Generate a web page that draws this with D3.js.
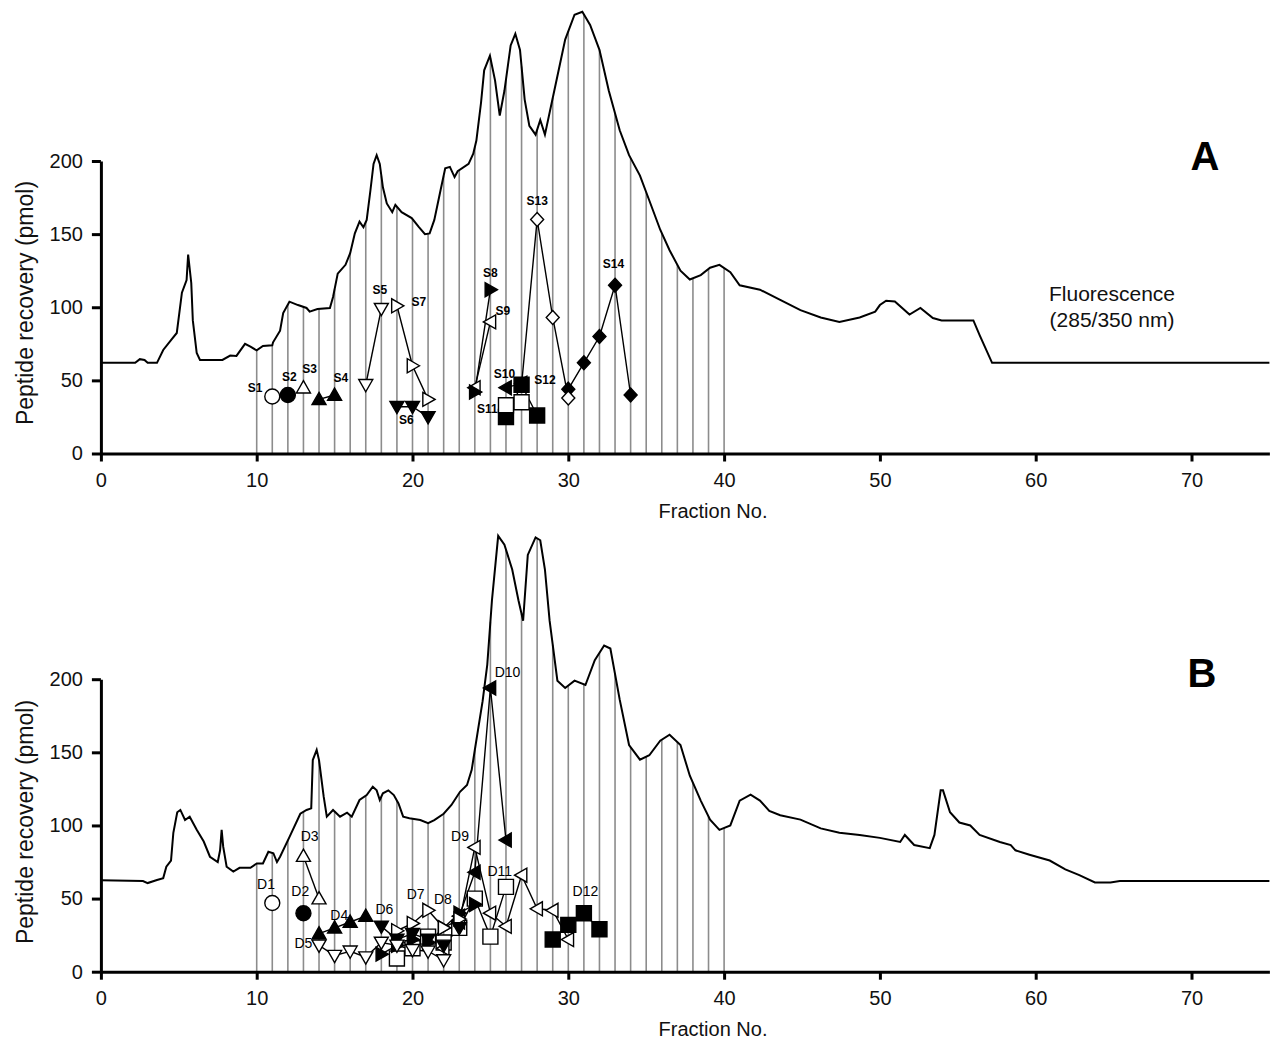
<!DOCTYPE html>
<html><head><meta charset="utf-8">
<script src="https://cdn.jsdelivr.net/npm/d3@7"></script>
<style>body{margin:0;background:#fff} text{font-family:"Liberation Sans",Arial,Helvetica,sans-serif}</style>
</head><body><svg id="chart" width="1270" height="1044"></svg>
<script>
// ---------- DATA ----------
const fractionTicks = [0, 10, 20, 30, 40, 50, 60, 70];
const recoveryTicks = [0, 50, 100, 150, 200];
const fractionDomain = [0, 75];
const recoveryDomain = [0, 200];
const barFractions = d3.range(10, 41);

// Fluorescence (285/350 nm) trace, panel A  [fraction, scaled value]
const fluorA = [[0,62],[2.2,62],[2.5,64.5],[2.8,64],[3.0,62],[3.6,62],[4.0,70.8],[4.5,77.6],[4.87,82.4],[5.2,110],[5.5,118.6],[5.6,136],[5.8,116.6],[5.9,91],[6.15,68.7],[6.36,64],[7.8,64],[8.3,67],[8.7,66.7],[9.25,75],[9.6,73],[10.0,70.5],[10.4,73.5],[11.0,74],[11.05,76],[11.5,84],[11.7,96],[12.1,103.8],[12.65,101.5],[13.2,99.5],[13.4,97],[13.9,98.8],[14.7,99.5],[14.9,107],[15.2,123],[15.7,129],[16.0,137],[16.3,150.5],[16.6,158.5],[16.85,154.7],[17.06,159.7],[17.3,180],[17.5,198],[17.7,204],[17.9,198],[18.1,182],[18.35,171],[18.7,165],[18.9,170],[19.3,165],[19.95,161],[20.4,155],[20.8,150],[21.1,150.5],[21.4,159.7],[21.8,180],[22.1,195],[22.4,196],[22.7,189],[22.9,193],[23.6,198],[23.9,205],[24.1,214],[24.4,240],[24.6,262],[24.97,272],[25.3,255],[25.6,231],[25.9,248],[26.3,279],[26.6,287],[26.9,276],[27.2,242],[27.5,224],[27.9,218],[28.2,228],[28.5,218],[29.1,248],[29.8,283],[30.4,300],[30.9,302],[31.4,293],[32,276],[32.6,248],[33.3,221],[33.9,204],[34.6,190],[35.2,173],[35.9,153],[36.5,139],[37.2,125],[37.8,119],[38.5,122],[39.1,127],[39.7,129],[40.4,124],[41,115],[42.3,112],[43.6,105],[44.9,98],[46.2,93],[47.4,90],[48.7,93],[49.7,97],[50.0,101.5],[50.4,104.5],[50.96,104],[51.9,95],[52.6,99.5],[53.4,92.6],[53.96,91],[56,91],[56.4,81],[57.2,62],[75,62]];

// Fluorescence trace, panel B
const fluorB = [[0,62.5],[2.7,62],[3.0,60.6],[3.6,62.7],[4.0,64],[4.2,71.8],[4.5,76],[4.65,95],[4.9,109],[5.1,110.6],[5.4,103.7],[5.7,106],[6.15,97],[6.6,89],[7.0,78.6],[7.5,75],[7.65,83],[7.75,97],[7.85,85.5],[8.07,71.8],[8.5,68.4],[8.9,71],[9.6,71],[10,74],[10.4,74],[10.75,82],[11.07,81],[11.3,75],[11.5,78.6],[12.1,92],[12.8,108],[13.2,110.6],[13.5,111.7],[13.6,144.7],[13.85,151.6],[14.0,144.7],[14.3,119.7],[14.5,106],[14.9,110.6],[15.35,106],[15.8,108.7],[16.1,106],[16.6,117.4],[17.06,120.8],[17.45,126.5],[17.7,124],[17.9,117.4],[18.1,122],[18.45,124],[18.8,120.8],[19.1,115],[19.4,106],[19.8,104.9],[20.5,103.7],[21.0,101.5],[21.4,103.7],[22.0,108],[22.5,114],[23.05,123],[23.5,127.7],[23.8,138],[24.0,151.6],[24.2,165],[24.5,185],[24.8,210],[25.1,254],[25.5,298],[25.9,292],[26.4,275],[26.8,254],[27.1,240],[27.4,285],[27.9,297],[28.2,295],[28.5,275],[28.8,240],[29.3,199],[29.8,194],[30.4,199],[31.1,196],[31.7,213],[32.3,223],[32.7,221],[33.3,186],[33.9,155],[34.6,145],[35.2,148],[35.9,158],[36.5,162],[37.2,155],[37.8,134],[38.5,117],[39.1,104],[39.7,97],[40.4,100],[41,117],[41.7,121],[42.3,117],[42.9,110],[43.6,107],[44.9,104],[46.2,98],[47.4,95],[48.7,93.5],[50,91.5],[51.3,88.7],[51.6,93.5],[52.2,86.6],[53.2,84.5],[53.5,93.5],[53.9,124],[54.05,124],[54.5,109],[55.1,102],[55.8,100],[56.4,93.5],[57.7,88.7],[58.4,86.6],[58.7,83],[59.6,80],[60.9,76],[61.9,70],[62.8,66],[63.8,61],[64.8,61],[65.4,62],[75,62]];

// Peptide recovery series, panel A (S1..S14): [fraction, pmol]
const namesA = ["S1","S2","S3","S4","S5","S6","S7","S8","S9","S10","S11","S12","S13","S14"];
const valuesA = [
  [[11,39]],
  [[12,40]],
  [[13,45]],
  [[14,37],[15,40]],
  [[17,47],[18,99]],
  [[19,32],[20,32],[21,25]],
  [[19,101],[20,60],[21,37]],
  [[24,42],[25,112]],
  [[24,45],[25,90]],
  [[26,45],[27,48]],
  [[26,33],[27,35]],
  [[26,25],[27,47],[28,26]],
  [[27,47],[28,160],[29,93],[30,38]],
  [[30,44],[31,62],[32,80],[33,115],[34,40]]
];
// label anchors (fraction, pmol)
const labelPosA = [[9.9,44],[12.1,52],[13.4,57],[15.4,51],[17.9,111],[19.6,22],[20.4,103],[25.0,123],[25.8,97],[25.9,54],[24.8,30],[28.5,50],[28.0,172],[32.9,129]];

// Peptide recovery series, panel B (D1..D12)
const namesB = ["D1","D2","D3","D4","D5","D6","D7","D8","D9","D10","D11","D12"];
const valuesB = [
  [[11,47]],
  [[13,40]],
  [[13,79],[14,50]],
  [[14,26],[15,30],[16,34],[17,38]],
  [[14,18],[15,11],[16,14],[17,10],[18,20],[19,18],[20,15],[21,14],[22,8]],
  [[18,31],[19,22],[20,26],[21,22],[22,18],[23,30]],
  [[19,28],[20,33],[21,42],[22,30],[23,36]],
  [[18,12],[19,18],[20,22],[21,20],[22,30],[23,40],[24,46]],
  [[22,16],[23,34],[24,85],[25,40],[26,31],[27,66],[28,43],[29,42],[30,22]],
  [[23,38],[24,68],[25,194],[26,90]],
  [[19,9],[20,16],[21,24],[22,20],[23,30],[24,50],[25,24],[26,58]],
  [[29,22],[30,32],[31,40],[32,29]]
];
const labelPosB = [[10.6,59],[12.8,54],[13.4,92],[15.3,38],[13.0,19],[18.2,42],[20.2,52],[21.95,49],[23.05,92],[26.1,204],[25.6,68],[31.1,54]];

// ---------- STYLE ----------
const shapes = ["circle","circle","triUp","triUp","triDown","triDown","triRight","triRight","triLeft","triLeft","square","square","diamond","diamond"];
const filled = [false,true,false,true,false,true,false,true,false,true,false,true,false,true];

const svg = d3.select("#chart");
const x = d3.scaleLinear().domain(fractionDomain).range([100.9, 1269.4]);

function interp(curve, f) {
  for (let i = 0; i < curve.length - 1; i++) {
    const a = curve[i], b = curve[i+1];
    if (f >= a[0] && f <= b[0]) return a[1] + (b[1]-a[1]) * (f - a[0]) / (b[0]-a[0]);
  }
  return curve[curve.length-1][1];
}

function symbolPath(type, cx, cy) {
  const s = 7;
  switch (type) {
    case "triUp": return `M${cx},${cy-s}L${cx+s},${cy+s*0.75}L${cx-s},${cy+s*0.75}Z`;
    case "triDown": return `M${cx},${cy+s}L${cx+s},${cy-s*0.75}L${cx-s},${cy-s*0.75}Z`;
    case "triRight": return `M${cx+s},${cy}L${cx-s*0.75},${cy-s}L${cx-s*0.75},${cy+s}Z`;
    case "triLeft": return `M${cx-s},${cy}L${cx+s*0.75},${cy-s}L${cx+s*0.75},${cy+s}Z`;
    case "square": return `M${cx-7.5},${cy-7.5}h15v15h-15Z`;
    case "diamond": return `M${cx},${cy-7}L${cx+6.5},${cy}L${cx},${cy+7}L${cx-6.5},${cy}Z`;
  }
}

function drawPanel(opts) {
  const y = d3.scaleLinear().domain(recoveryDomain).range(opts.yRange);
  const g = svg.append("g");

  // vertical fraction lines
  g.selectAll("line.frac").data(barFractions).join("line")
    .attr("x1", d => x(d)).attr("x2", d => x(d))
    .attr("y1", y(0)).attr("y2", d => y(interp(opts.curve, d)))
    .attr("stroke", "#8c8c8c").attr("stroke-width", 1.6);

  // fluorescence trace
  g.append("path").datum(opts.curve)
    .attr("d", d3.line().x(d => x(d[0])).y(d => y(d[1])))
    .attr("fill", "none").attr("stroke", "#000").attr("stroke-width", 2);

  // axes
  const xAxis = g.append("g").attr("transform", `translate(0,${y(0)})`)
    .call(d3.axisBottom(x).tickValues(fractionTicks).tickSize(8).tickSizeOuter(0).tickPadding(11));
  const yAxis = g.append("g").attr("transform", `translate(${x(0)},0)`)
    .call(d3.axisLeft(y).tickValues(recoveryTicks).tickSize(9).tickSizeOuter(0).tickPadding(9));
  [xAxis, yAxis].forEach(a => {
    a.select(".domain").attr("stroke-width", 3);
    a.selectAll(".tick line").attr("stroke-width", 3);
    a.selectAll(".tick text").attr("font-size", 20).attr("font-family", '"Liberation Sans",Arial,sans-serif').attr("fill", "#111");
  });

  // series lines
  const line = d3.line().x(d => x(d[0])).y(d => y(d[1]));
  opts.values.forEach(pts => {
    if (pts.length > 1) g.append("path").datum(pts).attr("d", line)
      .attr("fill", "none").attr("stroke", "#000").attr("stroke-width", 1.4);
  });
  // markers (later series drawn underneath)
  const order = d3.range(opts.values.length).reverse();
  order.forEach(i => {
    const pts = opts.values[i];
    const type = shapes[i], fill = filled[i] ? "#000" : "#fff";
    pts.forEach(p => {
      if (type === "circle") g.append("circle").attr("cx", x(p[0])).attr("cy", y(p[1])).attr("r", 7.5)
        .attr("fill", fill).attr("stroke", "#000").attr("stroke-width", 1.4);
      else g.append("path").attr("d", symbolPath(type, x(p[0]), y(p[1])))
        .attr("fill", fill).attr("stroke", "#000").attr("stroke-width", 1.4);
    });
  });
  // series labels
  opts.names.forEach((n, i) => {
    g.append("text").attr("x", x(opts.labelPos[i][0])).attr("y", y(opts.labelPos[i][1]))
      .attr("text-anchor", "middle").attr("dominant-baseline", "middle")
      .attr("font-size", opts.labelSize).attr("font-weight", opts.labelWeight).attr("fill", "#000").text(n);
  });

  // axis titles
  g.append("text").attr("x", 713).attr("y", y(0) + 64).attr("text-anchor", "middle")
    .attr("font-size", 20).attr("fill", "#111").text("Fraction No.");
  g.append("text").attr("transform", `translate(33,${opts.yLabelY}) rotate(-90)`).attr("text-anchor", "middle")
    .attr("font-size", 23).attr("fill", "#111").text("Peptide recovery (pmol)");
  g.append("text").attr("x", opts.letterX).attr("y", opts.letterY).attr("text-anchor", "middle")
    .attr("font-size", 40).attr("font-weight", "bold").attr("fill", "#000").text(opts.letter);
}

drawPanel({curve: fluorA, values: valuesA, names: namesA, labelPos: labelPosA, yRange: [453.5, 161],
  labelSize: 12, labelWeight: "bold", yLabelY: 303, letter: "A", letterX: 1205, letterY: 170});
drawPanel({curve: fluorB, values: valuesB, names: namesB, labelPos: labelPosB, yRange: [971.7, 679.2],
  labelSize: 14, labelWeight: "normal", yLabelY: 822, letter: "B", letterX: 1202, letterY: 687});

svg.append("text").attr("x", 1112).attr("y", 301).attr("text-anchor", "middle").attr("font-size", 21).attr("fill", "#111").text("Fluorescence");
svg.append("text").attr("x", 1112).attr("y", 327).attr("text-anchor", "middle").attr("font-size", 21).attr("fill", "#111").text("(285/350 nm)");
</script></body></html>
